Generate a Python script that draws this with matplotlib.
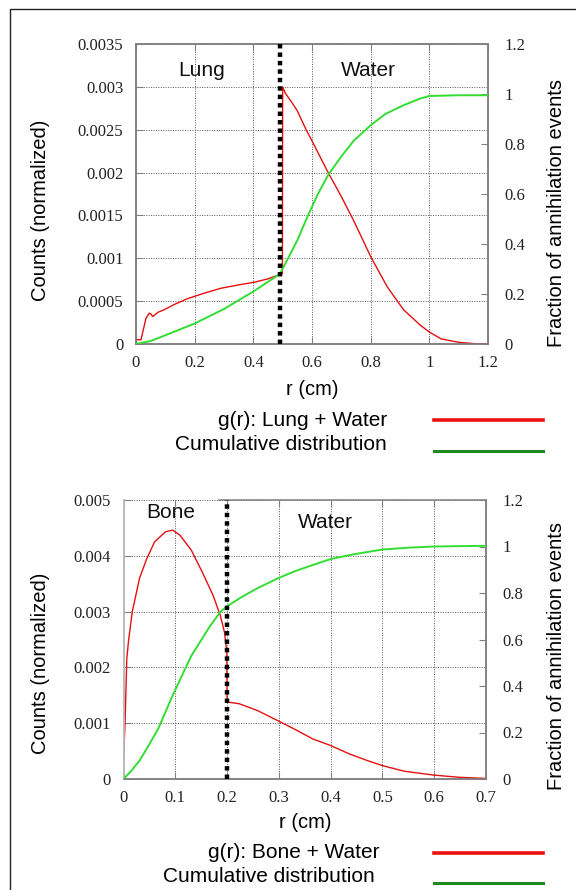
"""
Radial annihilation distributions: lung/water and bone/water interfaces.
"""

import matplotlib
matplotlib.use('Agg')
import matplotlib.pyplot as plt
from matplotlib.lines import Line2D

# ---- data ----
# top panel: lung + water
lung_r = [0.0, 0.017, 0.034, 0.045, 0.051, 0.057, 0.075, 0.096, 0.13, 0.176, 0.23,
          0.289, 0.35, 0.402, 0.45, 0.482, 0.499, 0.5, 0.51, 0.527, 0.55, 0.58,
          0.606, 0.652, 0.7, 0.742, 0.8, 0.856, 0.912, 0.969, 1.0, 1.04, 1.1, 1.165, 1.2]
lung_g = [0.00005, 0.00005, 0.0003, 0.00036, 0.00035, 0.00032, 0.00037, 0.0004, 0.00046,
          0.00053, 0.00059, 0.00065, 0.00069, 0.00072, 0.00076, 0.0008, 0.00082, 0.003,
          0.00292, 0.00284, 0.00272, 0.0025, 0.00233, 0.00202, 0.00172, 0.00144, 0.00102,
          0.00067, 0.0004, 0.00022, 0.00014, 0.00006, 0.00002, 0.0, 0.0]
lung_cum_r = [0.0, 0.05, 0.1, 0.2, 0.3, 0.4, 0.49, 0.504, 0.55, 0.584, 0.62, 0.657,
              0.7, 0.742, 0.8, 0.85, 0.912, 0.969, 1.0, 1.1, 1.2]
lung_cum = [0.0, 0.012, 0.035, 0.082, 0.14, 0.21, 0.28, 0.31, 0.415, 0.508, 0.6, 0.68,
            0.75, 0.813, 0.875, 0.92, 0.955, 0.982, 0.992, 0.995, 0.995]
lung_interface = 0.49

# bottom panel: bone + water
bone_r = [0.0, 0.003, 0.0064, 0.01, 0.017, 0.031, 0.045, 0.06, 0.081, 0.095, 0.109,
          0.131, 0.152, 0.173, 0.187, 0.195, 0.1995, 0.2, 0.223, 0.258, 0.297, 0.329,
          0.365, 0.4, 0.436, 0.471, 0.5, 0.542, 0.599, 0.649, 0.7]
bone_g = [0.00036, 0.001, 0.00216, 0.0025, 0.003, 0.0036, 0.00395, 0.00425, 0.00443,
          0.00446, 0.00437, 0.0041, 0.00371, 0.00329, 0.00293, 0.00263, 0.00228, 0.00138,
          0.00135, 0.00123, 0.00105, 0.0009, 0.00072, 0.0006, 0.00045, 0.00033, 0.00024,
          0.00014, 0.00007, 0.00003, 0.00001]
bone_cum_r = [0.0, 0.015, 0.031, 0.05, 0.067, 0.095, 0.131, 0.166, 0.187, 0.2, 0.23,
              0.258, 0.297, 0.33, 0.365, 0.4, 0.443, 0.5, 0.55, 0.6, 0.7]
bone_cum = [0.0, 0.035, 0.079, 0.15, 0.216, 0.36, 0.53, 0.654, 0.719, 0.743, 0.785,
            0.82, 0.862, 0.893, 0.92, 0.946, 0.966, 0.987, 0.995, 1.0, 1.003]
bone_interface = 0.2

W, H = 576, 890


def fx(px):
    return px / W


def fy(py):
    return 1 - py / H


SERIF = 'Liberation Serif'
SANS = 'Liberation Sans'
GRID = '#555555'
SPINE = '#808080'
RED = '#e41010'
GREEN = '#33dd33'

fig = plt.figure(figsize=(W / 100, H / 100), dpi=100)
fig.patch.set_facecolor('white')


def panel(box, xmax, xstep, ymax, ystep, r, g, cr, cum, sep, labels, fade_left=False,
          top_from=None):
    ax = fig.add_axes(box)
    ax2 = ax.twinx()
    ax.plot(r, g, color=RED, lw=1.0, zorder=3)
    ax2.plot(cr, cum, color=GREEN, lw=1.4, zorder=3)
    ax2.axvline(sep, color='black', lw=3.2, linestyle=(0, (1, 0.9)), zorder=5)

    ax.set_xlim(0, xmax)
    ax.set_ylim(0, ymax)
    ax2.set_ylim(0, 1.2)
    nx = int(round(xmax / xstep))
    ny = int(round(ymax / ystep))
    ax.set_xticks([i * xstep for i in range(nx + 1)])
    ax.set_yticks([i * ystep for i in range(ny + 1)])
    ax2.set_yticks([i * 0.2 for i in range(7)])
    ax.set_xticklabels(['%g' % round(i * xstep, 3) for i in range(nx + 1)])
    ax.set_yticklabels(['%g' % round(i * ystep, 6) for i in range(ny + 1)])
    ax2.set_yticklabels(['%g' % round(i * 0.2, 2) for i in range(7)])

    ax.grid(True, color=GRID, lw=0.7, linestyle=(0, (1, 1.5)))
    ax.tick_params(axis='both', direction='in', length=5, color=SPINE, top=True,
                   labelsize=12, labelcolor='#222222')
    ax.tick_params(axis='y', pad=9)
    ax.tick_params(axis='x', pad=8)
    ax2.tick_params(axis='y', direction='in', length=5, color=SPINE, labelsize=12,
                    labelcolor='#222222', pad=12)
    for lab in ax.get_xticklabels() + ax.get_yticklabels() + ax2.get_yticklabels():
        lab.set_fontfamily(SERIF)
    for a in (ax, ax2):
        for s in a.spines.values():
            s.set_color(SPINE)
            s.set_linewidth(1.1)
    if fade_left:
        ax2.spines['left'].set_color('#c8c8c8')
    if top_from is not None:
        ax2.spines['top'].set_bounds(top_from, xmax)
        ax.spines['top'].set_visible(False)
    for txt, x, y in labels:
        ax.text(x, y, txt, ha='center', va='center', fontsize=15, family=SANS,
                color='#111111', zorder=6)
    return ax, ax2


panel([fx(136), fy(344), fx(488) - fx(136), fy(44) - fy(344)], 1.2, 0.2, 0.0035, 0.0005,
      lung_r, lung_g, lung_cum_r, lung_cum, lung_interface,
      [('Lung', 0.224, 0.00319), ('Water', 0.792, 0.00319)])

panel([fx(123.5), fy(779), fx(486) - fx(123.5), fy(500) - fy(779)], 0.7, 0.1, 0.005, 0.001,
      bone_r, bone_g, bone_cum_r, bone_cum, bone_interface,
      [('Bone', 0.092, 0.00477), ('Water', 0.389, 0.00459)], fade_left=True, top_from=0.184)

# axis titles
for xlab_x, xlab_y, l_y, r_y in [(312, 390, 210, 213), (305, 823, 663, 656)]:
    fig.text(fx(xlab_x), fy(xlab_y), 'r (cm)', ha='center', va='center', fontsize=14.5,
             family=SANS)
    fig.text(fx(41), fy(l_y), 'Counts (normalized)', ha='center', va='center',
             rotation=90, fontsize=14.5, family=SANS)
    fig.text(fx(557), fy(r_y), 'Fraction of annihilation events', ha='center',
             va='center', rotation=90, fontsize=14.5, family=SANS)

# legends below each panel
legends = [
    ('g(r): Lung + Water', 387, 421, 420, 'Cumulative distribution', 387, 444, 451),
    ('g(r): Bone + Water', 379, 853, 853, 'Cumulative distribution', 375, 877, 883),
]
for t1, x1, y1, l1, t2, x2, y2, l2 in legends:
    fig.text(fx(x1), fy(y1), t1, ha='right', va='center', fontsize=15, family=SANS)
    fig.text(fx(x2), fy(y2), t2, ha='right', va='center', fontsize=15, family=SANS)
    fig.add_artist(Line2D([fx(434), fx(543)], [fy(l1), fy(l1)], color='#ee1111', lw=2.6))
    fig.add_artist(Line2D([fx(434), fx(543)], [fy(l2), fy(l2)], color='#1f8a1f', lw=2.2))

# page frame (top and left edges)
fig.add_artist(Line2D([fx(10), fx(10), 1.0], [0.0, fy(9), fy(9)], color='#222222', lw=1.0))

plt.savefig('out.png', dpi=100)
plt.close()
print("Saved: out.png")
